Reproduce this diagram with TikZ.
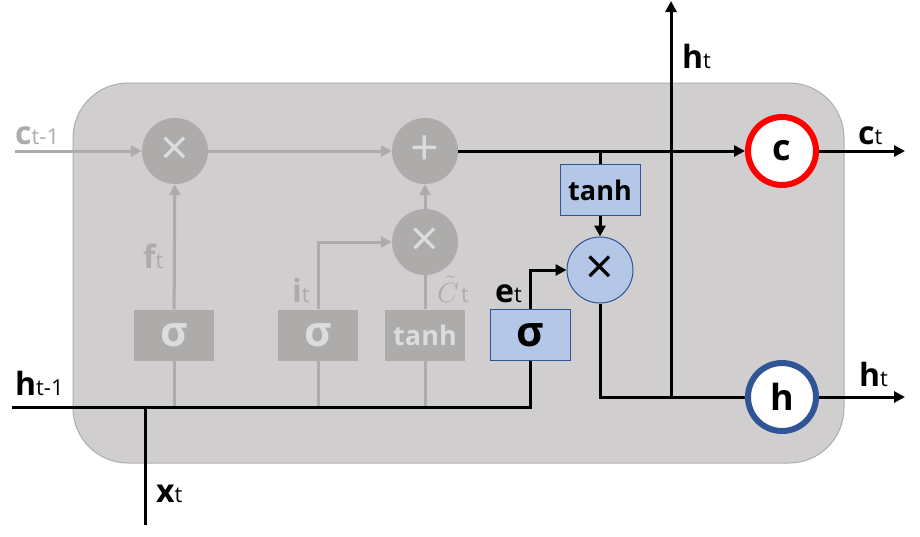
\documentclass[tikz,border=0pt]{standalone}
\usepackage{graphicx}
\usepackage{fontspec}
\setmainfont{Open Sans}
\usetikzlibrary{arrows.meta}
\definecolor{cellgray}{HTML}{D0CECE}
\definecolor{celledge}{HTML}{AFABAB}
\definecolor{oldgray}{HTML}{AEABAB}
\definecolor{oldtext}{HTML}{DCDCDC}
\definecolor{newfill}{HTML}{B4C7E7}
\definecolor{newedge}{HTML}{2F5597}
\newcommand{\lbl}[2]{{\bfseries #1}{\fontsize{22}{22}\selectfont #2}}

\begin{document}
\begin{tikzpicture}[x=1pt, y=-1pt,
    oldline/.style={line width=3pt, color=oldgray},
    newline/.style={line width=3pt, color=black},
    tip/.style={-{Triangle[length=11pt,width=11pt]}},
    oldop/.style={circle, fill=oldgray, minimum size=66pt, inner sep=0pt, text=oldtext, font=\fontsize{50}{50}\selectfont},
    oldgate/.style={rectangle, fill=oldgray, minimum width=80pt, minimum height=51pt, inner sep=0pt, text=oldtext, font=\bfseries\fontsize{27}{27}\selectfont},
    newop/.style={circle, fill=newfill, draw=newedge, line width=1pt, minimum size=66pt, inner sep=0pt, font=\fontsize{50}{50}\selectfont},
    newgate/.style={rectangle, fill=newfill, draw=newedge, line width=1pt, minimum width=80pt, minimum height=51pt, inner sep=0pt, font=\bfseries\fontsize{27}{27}\selectfont},
    sigma/.style={font=\bfseries\fontsize{42}{42}\selectfont},
    state/.style={circle, fill=white, line width=6pt, minimum size=68pt, inner sep=0pt, font=\bfseries\fontsize{36}{36}\selectfont},
    lab/.style={anchor=base west, inner sep=0pt, font=\fontsize{32}{32}\selectfont}]
    \useasboundingbox (0,0) rectangle (920,536);
    % cell body
    \draw[fill=cellgray, draw=celledge, line width=1pt, rounded corners=55pt] (73,83) rectangle (844,463);

    \coordinate (cin) at (15,151);
    \coordinate (cout) at (905,151);
    \coordinate (hout) at (905,397);
    \coordinate (htop) at (671,1);
    \coordinate (hin) at (12,407);
    \coordinate (xin) at (145,525);

    % old gates (greyed out)
    \node[oldop] (fmul) at (175,151) {×};
    \node[oldop] (add) at (425,151) {+};
    \node[oldop] (imul) at (425,242) {×};
    \node[oldgate, sigma] (fsig) at (174,335) {σ};
    \node[oldgate, sigma] (isig) at (318,335) {σ};
    \node[oldgate] (gtanh) at (425,335) {tanh};

    % new gates
    \node[newgate] (tanh) at (600,190) {tanh};
    \node[newop] (omul) at (600,270) {×};
    \node[newgate, sigma] (esig) at (530,335) {σ};
    \node[state, draw=red] (c) at (782,151) {c};
    \node[state, draw=newedge] (h) at (782,397) {h};

    \draw[oldline, tip] (cin) -- (fmul);
    \draw[oldline, tip] (fmul) -- (add);
    \draw[oldline, tip] (fsig) -- (fmul);
    \draw[oldline, tip] (isig.north) |- (imul);
    \draw[oldline] (gtanh) -- (imul);
    \draw[oldline, tip] (imul) -- (add);
    \foreach \g in {fsig, isig, gtanh}
        \draw[oldline] (\g.south) -- (\g.south |- hin);

    \draw[newline, tip] (add) -- (c);
    \draw[newline] (tanh.north) -- (tanh.north |- add);
    \draw[newline, tip] (tanh) -- (omul);
    \draw[newline, tip] (esig.north) |- (omul);
    \draw[newline] (omul.south) |- (h);
    \draw[newline, tip] (htop |- h) -- (htop);
    \draw[newline] (hin) -| (esig.south);
    \draw[newline] (xin) -- (xin |- hin);
    \draw[newline, tip] (c) -- (cout);
    \draw[newline, tip] (h) -- (hout);

    % labels
    \node[lab, text=oldgray] (lcprev) at (15,144) {\lbl{c}{t-1}};
    \node[lab, text=oldgray] (lf) at (143,268) {\lbl{f}{t}};
    \node[lab, text=oldgray] (li) at (292,302) {\lbl{i}{t}};
    \node[lab, text=oldgray] (lctil) at (437,302) {\lbl{{\normalsize\scalebox{2.8}{$\tilde{C}$}}\kern2pt}{t}};
    \node[lab] (le) at (495,302) {\lbl{e}{t}};
    \node[lab] (lhprev) at (15,395) {\lbl{h}{t-1}};
    \node[lab] (lx) at (156,502) {\lbl{x}{t}};
    \node[lab] (lhup) at (682,68) {\lbl{h}{t}};
    \node[lab] (lc) at (858,144) {\lbl{c}{t}};
    \node[lab] (lhout) at (859,386) {\lbl{h}{t}};
\end{tikzpicture}
\end{document}
